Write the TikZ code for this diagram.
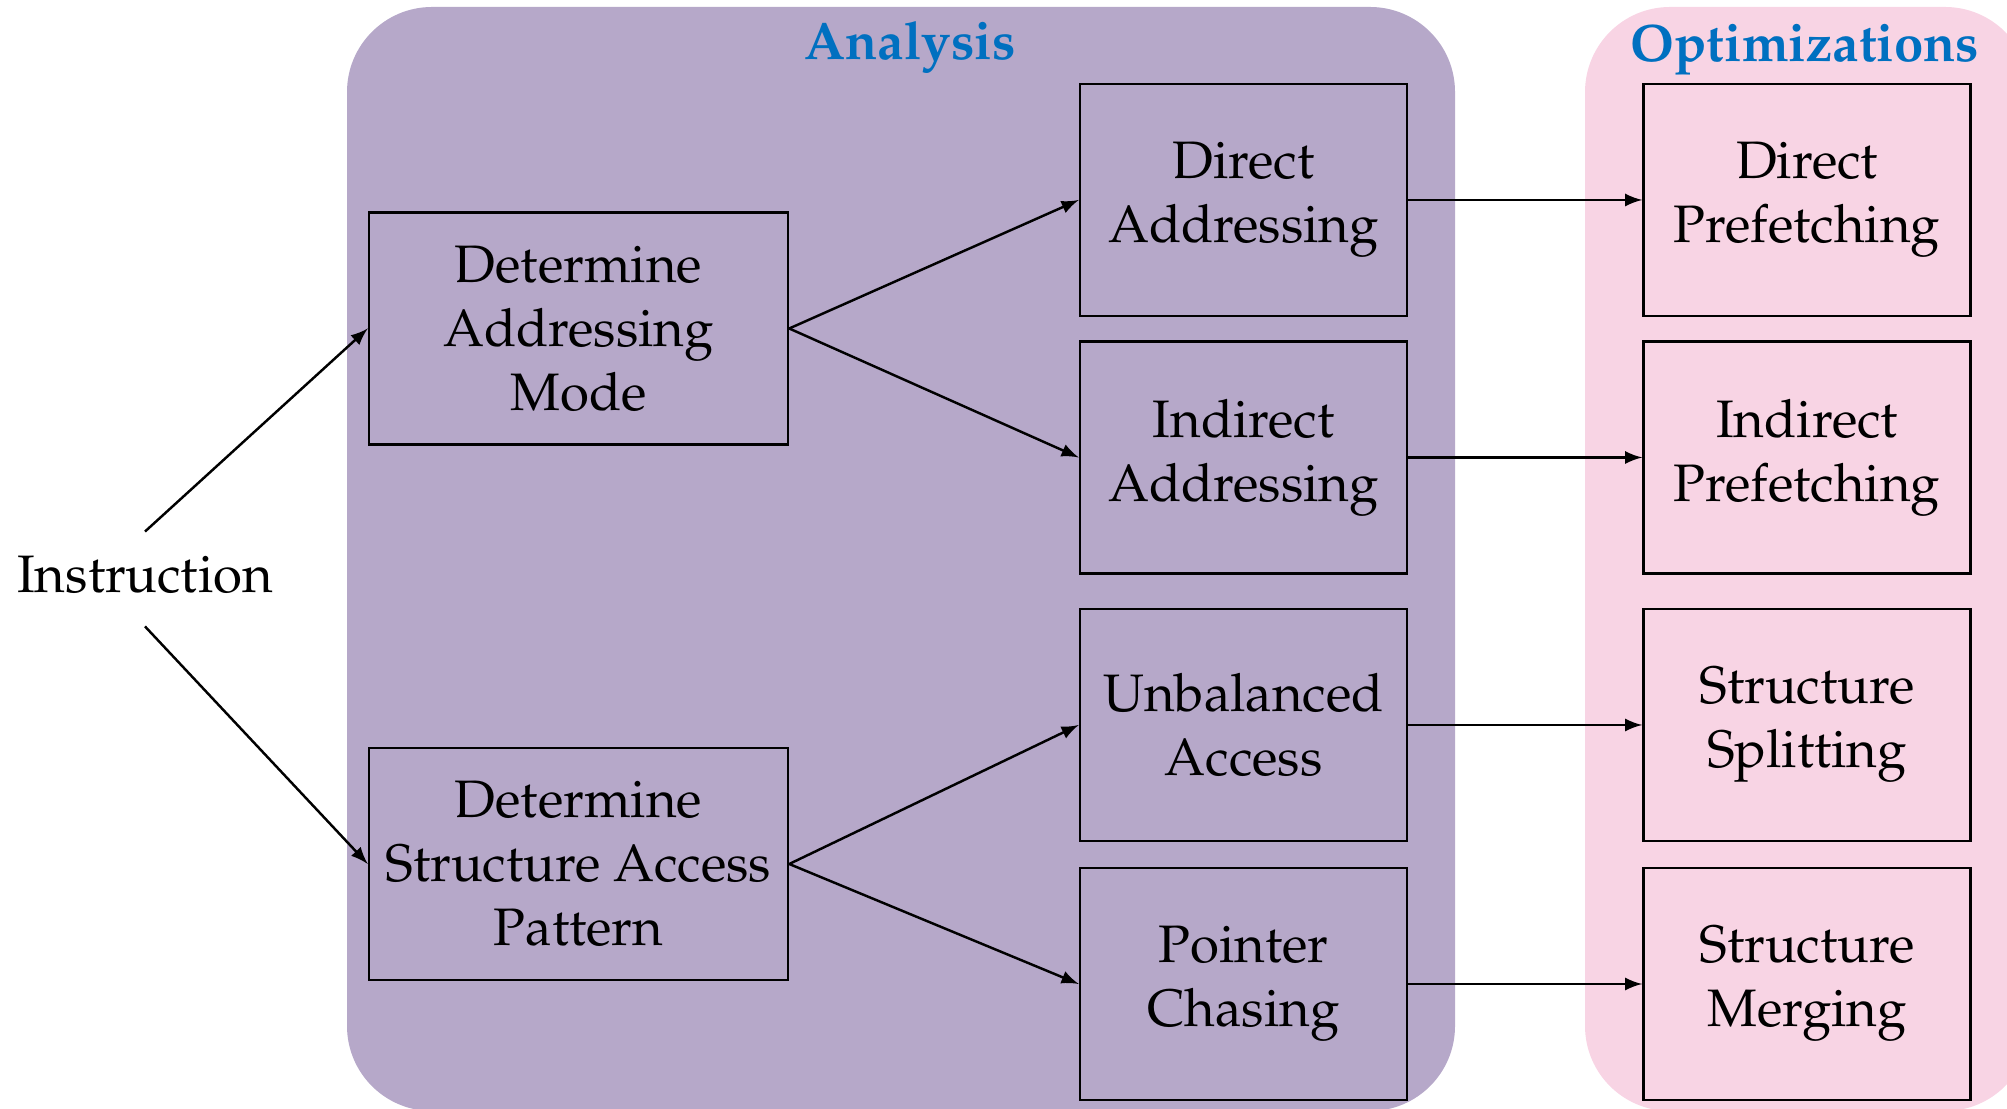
\documentclass[tikz,border=0pt]{standalone}
\usepackage[T1]{fontenc}
\usepackage{mathpazo}
\usepackage{tikz}
\usetikzlibrary{shapes.geometric, arrows}
\definecolor{analysisbg}{HTML}{B6A8C9}
\definecolor{optbg}{HTML}{F8D4E4}
\definecolor{titleblue}{HTML}{0070C0}
\tikzstyle{arrow} = [line width=0.7pt,->,>=latex]
\tikzstyle{modebox} = [rectangle, draw=black, line width=0.7pt, minimum width=4.19cm, minimum height=2.32cm, align=center, inner sep=0pt, font=\fontsize{15}{18.2}\selectfont]
\tikzstyle{addrbox} = [modebox, minimum width=3.27cm]
\tikzstyle{grouptitle} = [text=titleblue, font=\fontsize{15}{18}\selectfont\bfseries]

\begin{document}
\begin{tikzpicture}[scale=1, transform shape, node distance=2.6cm]
		\useasboundingbox (0,0) rectangle (20.07,11.09);
		\fill [analysisbg, rounded corners=0.85cm] (3.47,-0.02) rectangle (14.55,11.02);
		\fill [optbg, rounded corners=0.85cm] (15.85,-0.02) rectangle (20.3,11.02);
		\node (analysis) [grouptitle] at (9.10,10.62) {Analysis};
		\node (optimizations) [grouptitle] at (18.05,10.59) {Optimizations};
		\node (instr) [font=\fontsize{15}{18.2}\selectfont, inner ysep=6.8pt, text depth=2.6pt] at (1.45,5.30) {Instruction};
		\node (dam) [modebox] at (5.785,7.805) {Determine\\Addressing\\Mode};
		\node (dsap) [modebox] at (5.785,2.45) {Determine\\Structure Access\\Pattern};
		\node (da) [addrbox] at (12.435,9.09) {Direct\\Addressing};
		\node (ia) [addrbox, below of=da, yshift=0.025cm] {Indirect\\Addressing};
		\node (ua) [addrbox, below of=ia, yshift=-0.075cm] {Unbalanced\\Access};
		\node (pc) [addrbox, below of=ua, yshift=0.01cm] {Pointer\\Chasing};
		\node (dp) [addrbox, right of=da, xshift=3.035cm] {Direct\\Prefetching};
		\node (ip) [addrbox, right of=ia, xshift=3.035cm] {Indirect\\Prefetching};
		\node (ss) [addrbox, right of=ua, xshift=3.035cm] {Structure\\Splitting};
		\node (sm) [addrbox, right of=pc, xshift=3.035cm] {Structure\\Merging};
		\draw [arrow] (instr.north) -- (dam.west);
		\draw [arrow] (instr.south) -- (dsap.west);
		\draw [arrow] (dam.east) -- (da.west);
		\draw [arrow] (dam.east) -- (ia.west);
		\draw [arrow] (dsap.east) -- (ua.west);
		\draw [arrow] (dsap.east) -- (pc.west);
		\draw [arrow] (da) -- (dp);
		\draw [arrow] (ia) -- (ip);
		\draw [arrow] (ua) -- (ss);
		\draw [arrow] (pc) -- (sm);
\end{tikzpicture}
\end{document}
